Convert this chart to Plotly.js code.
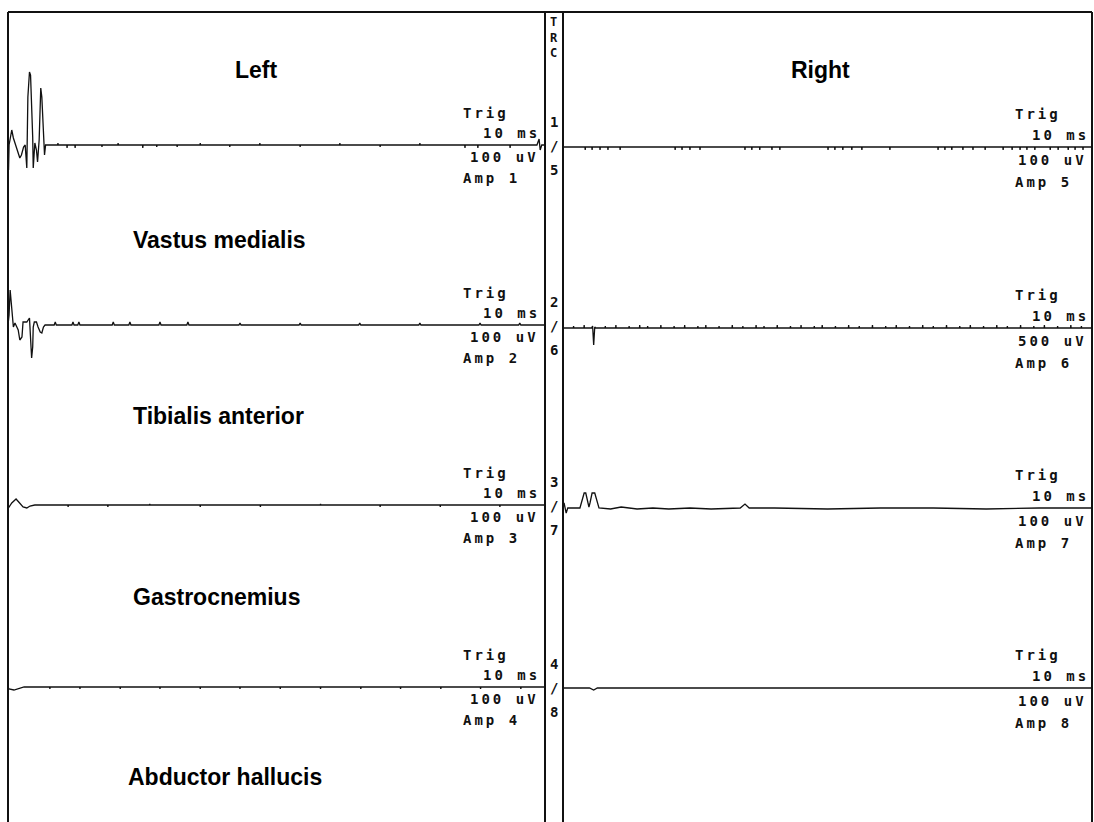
<!DOCTYPE html>
<html>
<head>
<meta charset="utf-8">
<script src="https://cdn.plot.ly/plotly-3.0.1.min.js"></script>
<style>html,body{margin:0;padding:0;background:#fff;}#chart{width:1094px;height:822px;}</style>
</head>
<body>
<div id="chart"></div>
<script>
// ---------- DATA (time in ms, amplitude in display units, + = up) ----------
const sideTitles = ["Left", "Right"];
const muscles = ["Vastus medialis", "Tibialis anterior", "Gastrocnemius", "Abductor hallucis"];
const sweepLabel = "10 ms";
const sensLeft = ["100 uV", "100 uV", "100 uV", "100 uV"];
const sensRight = ["100 uV", "500 uV", "100 uV", "100 uV"];
const ampLeft = ["Amp 1", "Amp 2", "Amp 3", "Amp 4"];
const ampRight = ["Amp 5", "Amp 6", "Amp 7", "Amp 8"];
const trcLetters = ["T", "R", "C"];
const chanPairs = [["1", "5"], ["2", "6"], ["3", "7"], ["4", "8"]];

// Left, Vastus medialis (Amp 1)
const ch1T = [0, 0.1, 0.2, 0.7, 1.0, 1.3, 1.6, 1.9, 2.2, 2.5, 2.9, 3.2, 3.5, 3.7, 4.0, 4.2, 4.4, 4.6, 4.7, 5.0, 5.3, 5.5, 5.8, 6.0, 6.1, 6.3, 6.6, 6.8, 7.0,
  9.25, 9.3, 9.35, 10.95, 11.0, 11.05, 12.45, 12.5, 12.55, 17.45, 17.5, 17.55, 20.45, 20.5, 20.55, 25.05, 25.1, 25.15,
  27.65, 27.7, 27.75, 31.45, 31.5, 31.55, 35.75, 35.8, 35.85, 41.25, 41.3, 41.35, 46.85, 46.9, 46.95, 54.35, 54.4, 54.45,
  61.75, 61.8, 61.85, 69.25, 69.3, 69.35, 76.65, 76.7, 76.75, 85.05, 85.1, 85.15, 87.45, 87.5, 87.55, 93.45, 93.5, 93.55,
  98.5, 98.9, 99.1, 99.4, 100];
const ch1V = [0, -25, 0, 15, 7, 2, -2, -8, -13, -10, -2, 0, -23, 48, 73, 70, 45, 8, -23, 2, -5, -17, 5, 48, 57, 48, 5, -10, 0,
  0, 2, 0, 0, -3, 0, 0, -3, 0, 0, -2, 0, 0, 2, 0, 0, -3, 0,
  0, -2, 0, 0, -2, 0, 0, 2, 0, 0, -2, 0, 0, 2, 0, 0, -2, 0,
  0, 2, 0, 0, -2, 0, 0, 2, 0, 0, -3, 0, 0, -3, 0, 0, -3, 0,
  0, 6, -5, 0, 0];

// Left, Tibialis anterior (Amp 2)
const ch2T = [0, 0.2, 0.4, 0.7, 1.0, 1.3, 1.9, 2.2, 2.6, 2.8, 3.5, 4.0, 4.2, 4.4, 4.6, 4.7, 4.9, 5.3, 5.6, 6.0, 6.3, 6.6, 6.9,
  8.6, 8.8, 9.0, 11.9, 12.1, 12.3, 13.0, 13.2, 13.4, 19.4, 19.6, 19.8, 22.5, 22.7, 22.9, 28.1, 28.3, 28.5, 33.3, 33.5, 33.7,
  43.0, 43.2, 43.4, 54.2, 54.4, 54.6, 65.3, 65.5, 65.7, 76.5, 76.7, 76.9, 87.7, 87.9, 88.1, 95.1, 95.3, 95.5, 100];
const ch2V = [0, 10, 35, 15, -2, 2, -5, -15, -12, 3, 3, 7, -22, -33, -22, -2, 3, 3, -2, -7, -8, -2, 0,
  0, 3, 0, 0, 3, 0, 0, 3, 0, 0, 3, 0, 0, 3, 0, 0, 3, 0, 0, 3, 0,
  0, 2, 0, 0, 2, 0, 0, 2, 0, 0, 2, 0, 0, 2, 0, 0, 2, 0, 0];

// Left, Gastrocnemius (Amp 3)
const ch3T = [0, 0.2, 0.7, 1.5, 2.0, 2.8, 3.5, 4.1, 5.0,
  11.15, 11.2, 11.25, 18.55, 18.6, 18.65, 26.35, 26.4, 26.45, 35.75, 35.8, 35.85, 46.95, 47.0, 47.05,
  58.15, 58.2, 58.25, 69.25, 69.3, 69.35, 80.45, 80.5, 80.55, 91.55, 91.6, 91.65, 100];
const ch3V = [0, -2, 2, 6, 3, -2, -3, -1, 0,
  0, -2, 0, 0, -2, 0, 0, 1, 0, 0, -2, 0, 0, -2, 0,
  0, 1, 0, 0, -2, 0, 0, -2, 0, 0, -2, 0, 0];

// Left, Abductor hallucis (Amp 4)
const ch4T = [0, 0.2, 1.1, 2.2, 3.0,
  7.75, 7.8, 7.85, 13.35, 13.4, 13.45, 20.85, 20.9, 20.95, 28.25, 28.3, 28.35, 35.75, 35.8, 35.85, 43.15, 43.2, 43.25,
  50.65, 50.7, 50.75, 58.15, 58.2, 58.25, 65.65, 65.7, 65.75, 73.05, 73.1, 73.15, 80.55, 80.6, 80.65, 87.95, 88.0, 88.05,
  95.45, 95.5, 95.55, 100];
const ch4V = [0, -2, -3, -1, 0,
  0, -2, 0, 0, -2, 0, 0, -2, 0, 0, -2, 0, 0, -2, 0, 0, -2, 0,
  0, -2, 0, 0, -2, 0, 0, -2, 0, 0, -2, 0, 0, -2, 0, 0, -2, 0,
  0, -2, 0, 0];

// Right, Amp 5
const ch5T = [0,
  4.15, 4.2, 4.25, 5.45, 5.5, 5.55, 6.95, 7.0, 7.05, 8.45, 8.5, 8.55, 10.75, 10.8, 10.85,
  21.15, 21.2, 21.25, 22.45, 22.5, 22.55, 23.95, 24.0, 24.05, 25.85, 25.9, 25.95,
  34.35, 34.4, 34.45, 35.65, 35.7, 35.75, 37.15, 37.2, 37.25, 39.45, 39.5, 39.55, 40.95, 41.0, 41.05,
  50.05, 50.1, 50.15, 51.35, 51.4, 51.45, 52.85, 52.9, 52.95, 54.55, 54.6, 54.65, 56.45, 56.5, 56.55, 61.75, 61.8, 61.85,
  70.85, 70.9, 70.95, 72.15, 72.2, 72.25, 73.45, 73.5, 73.55, 75.55, 75.6, 75.65, 77.45, 77.5, 77.55, 79.75, 79.8, 79.85,
  83.15, 83.2, 83.25, 84.85, 84.9, 84.95, 86.35, 86.4, 86.45, 87.65, 87.7, 87.75, 89.15, 89.2, 89.25,
  92.05, 92.1, 92.15, 93.55, 93.6, 93.65, 95.45, 95.5, 95.55, 96.75, 96.8, 96.85, 98.25, 98.3, 98.35, 100];
const ch5V = [0,
  0, -3, 0, 0, -3, 0, 0, -3, 0, 0, -3, 0, 0, -3, 0,
  0, -3, 0, 0, -3, 0, 0, -3, 0, 0, -3, 0,
  0, -3, 0, 0, -3, 0, 0, -3, 0, 0, -3, 0, 0, -3, 0,
  0, -3, 0, 0, -3, 0, 0, -3, 0, 0, -3, 0, 0, -3, 0, 0, -3, 0,
  0, -3, 0, 0, -3, 0, 0, -3, 0, 0, -3, 0, 0, -3, 0, 0, -3, 0,
  0, -3, 0, 0, -3, 0, 0, -3, 0, 0, -3, 0, 0, -3, 0,
  0, -3, 0, 0, -3, 0, 0, -3, 0, 0, -3, 0, 0, -3, 0, 0];

// Right, Amp 6 (500 uV)
const ch6T = [0, 1.95, 2.0, 2.05, 3.95, 4.0, 4.05, 5.4, 5.6, 5.8, 6.0, 6.2,
  7.95, 8.0, 8.05, 9.95, 10.0, 10.05, 12.45, 12.5, 12.55, 14.45, 14.5, 14.55, 15.95, 16.0, 16.05, 18.45, 18.5, 18.55,
  20.95, 21.0, 21.05, 22.95, 23.0, 23.05, 25.45, 25.5, 25.55, 26.95, 27.0, 27.05, 29.45, 29.5, 29.55, 31.95, 32.0, 32.05,
  33.95, 34.0, 34.05, 36.45, 36.5, 36.55, 37.95, 38.0, 38.05, 40.45, 40.5, 40.55, 42.95, 43.0, 43.05, 44.95, 45.0, 45.05,
  47.45, 47.5, 47.55, 48.95, 49.0, 49.05, 51.45, 51.5, 51.55, 53.95, 54.0, 54.05, 55.95, 56.0, 56.05, 58.45, 58.5, 58.55,
  60.95, 61.0, 61.05, 62.95, 63.0, 63.05, 65.45, 65.5, 65.55, 67.95, 68.0, 68.05, 69.95, 70.0, 70.05, 72.45, 72.5, 72.55,
  74.95, 75.0, 75.05, 76.95, 77.0, 77.05, 79.45, 79.5, 79.55, 81.95, 82.0, 82.05, 83.95, 84.0, 84.05, 86.45, 86.5, 86.55,
  88.95, 89.0, 89.05, 90.95, 91.0, 91.05, 93.45, 93.5, 93.55, 95.95, 96.0, 96.05, 97.95, 98.0, 98.05, 100];
const ch6V = [0, 0, 2, 0, 0, 3, 0, 0, 2, -17, 1, 0,
  0, 2, 0, 0, 3, 0, 0, 2, 0, 0, 3, 0, 0, 2, 0, 0, 3, 0,
  0, 2, 0, 0, 3, 0, 0, 2, 0, 0, 3, 0, 0, 2, 0, 0, 3, 0,
  0, 2, 0, 0, 3, 0, 0, 2, 0, 0, 3, 0, 0, 2, 0, 0, 3, 0,
  0, 2, 0, 0, 3, 0, 0, 2, 0, 0, 3, 0, 0, 2, 0, 0, 3, 0,
  0, 2, 0, 0, 3, 0, 0, 2, 0, 0, 3, 0, 0, 2, 0, 0, 3, 0,
  0, 2, 0, 0, 3, 0, 0, 2, 0, 0, 3, 0, 0, 2, 0, 0, 3, 0,
  0, 2, 0, 0, 3, 0, 0, 2, 0, 0, 3, 0, 0, 2, 0, 0];

// Right, Amp 7
const ch7T = [0, 0.2, 0.6, 0.9, 3.2, 3.6, 4.0, 4.3, 4.7, 4.9, 5.1, 5.5, 6.0, 6.4, 6.8,
  9.0, 11.0, 14.0, 17.0, 20.0, 24.0, 28.0, 33.5, 34.4, 35.2, 40.0, 50.0, 60.0, 70.0, 80.0, 90.0, 100];
const ch7V = [0, 5, -5, 0, 0, 8, 15, 15, 5, 1, 5, 15, 15, 8, 0,
  -1, 1, -1, 0, -1, 0, -1, 0, 4, 0, 0, -1, 0, 0, -1, 0, 0];

// Right, Amp 8
const ch8T = [0, 5.0, 5.8, 6.5, 20, 40, 60, 80, 100];
const ch8V = [0, 0, -2, 0, 0, 0, 0, 0, 0];

// ---------- LAYOUT / DRAWING ----------
const W = 1094, H = 822;
const fx = p => p / W;
const fy = p => 1 - p / H;
const LEFT_X0 = 8, LEFT_X1 = 545, RIGHT_X0 = 563, RIGHT_X1 = 1092, TOP = 12;
const HALF = 90;

const channels = [
  {t: ch1T, v: ch1V, side: 0, base: 145},
  {t: ch2T, v: ch2V, side: 0, base: 325},
  {t: ch3T, v: ch3V, side: 0, base: 505},
  {t: ch4T, v: ch4V, side: 0, base: 687},
  {t: ch5T, v: ch5V, side: 1, base: 147},
  {t: ch6T, v: ch6V, side: 1, base: 328},
  {t: ch7T, v: ch7V, side: 1, base: 508},
  {t: ch8T, v: ch8V, side: 1, base: 688}
];

const layout = {
  width: W, height: H,
  margin: {l: 0, r: 0, t: 0, b: 0},
  paper_bgcolor: '#fff', plot_bgcolor: 'rgba(0,0,0,0)',
  showlegend: false, hovermode: false,
  xaxis: {domain: [fx(LEFT_X0), fx(LEFT_X1)], range: [0, 100], visible: false, fixedrange: true},
  xaxis2: {domain: [fx(RIGHT_X0), fx(RIGHT_X1)], range: [0, 100], visible: false, fixedrange: true},
  shapes: [], annotations: []
};

const traces = channels.map((c, i) => {
  const yk = 'yaxis' + (i === 0 ? '' : i + 1);
  layout[yk] = {
    domain: [fy(c.base + HALF), fy(c.base - HALF)],
    range: [-HALF, HALF], visible: false, fixedrange: true,
    anchor: c.side === 0 ? 'x' : 'x2'
  };
  return {
    type: 'scatter', mode: 'lines', x: c.t, y: c.v,
    xaxis: c.side === 0 ? 'x' : 'x2', yaxis: 'y' + (i === 0 ? '' : i + 1),
    line: {color: '#111', width: 1.3}, hoverinfo: 'skip'
  };
});

// frame
const ln = (x0, y0, x1, y1, w) => ({type: 'line', xref: 'paper', yref: 'paper',
  x0: fx(x0), y0: fy(y0), x1: fx(x1), y1: fy(y1), line: {color: '#111', width: w}});
layout.shapes.push(ln(LEFT_X0, TOP, RIGHT_X1, TOP, 2));
layout.shapes.push(ln(LEFT_X0, TOP, LEFT_X0, H, 2));
layout.shapes.push(ln(LEFT_X1, TOP, LEFT_X1, H, 2));
layout.shapes.push(ln(RIGHT_X0, TOP, RIGHT_X0, H, 2));
layout.shapes.push(ln(RIGHT_X1, TOP, RIGHT_X1, H, 2));

const mono = {family: 'DejaVu Sans Mono, monospace', size: 14, color: '#111', weight: 'bold'};
const monoSmall = {family: 'DejaVu Sans Mono, monospace', size: 12, color: '#111', weight: 'bold'};
const bold = {family: 'Liberation Sans, Arial, sans-serif', size: 23, color: '#000', weight: 'bold'};
const sp = s => '<span style="letter-spacing:3px">' + s + '</span>';
const ann = (x, y, text, xanchor, font, yanchor) => layout.annotations.push({
  xref: 'paper', yref: 'paper', x: fx(x), y: fy(y), text: text, showarrow: false,
  xanchor: xanchor, yanchor: yanchor || 'middle', font: font
});

// titles
ann(256, 70, sideTitles[0], 'center', bold);
ann(820, 70, sideTitles[1], 'center', bold);
// muscles
const musY = [240, 416, 597, 777];
const musX = [131, 131, 131, 126];
muscles.forEach((m, i) => ann(musX[i], musY[i], m, 'left', bold));

// per-row labels
for (let r = 0; r < 4; r++) {
  const bl = channels[r].base, br = channels[r + 4].base;
  ann(461, bl - 32, sp('Trig'), 'left', mono);
  ann(542, bl - 12, sp(sweepLabel), 'right', mono);
  ann(541, bl + 12, sp(sensLeft[r]), 'right', mono);
  ann(461, bl + 33, sp(ampLeft[r]), 'left', mono);
  ann(1013, br - 33, sp('Trig'), 'left', mono);
  ann(1091, br - 12, sp(sweepLabel), 'right', mono);
  ann(1089, br + 13, sp(sensRight[r]), 'right', mono);
  ann(1013, br + 35, sp(ampRight[r]), 'left', mono);
  // channel numbers in the strip
  ann(554, bl - 23, chanPairs[r][0], 'center', mono);
  ann(554, bl + 1, '/', 'center', mono);
  ann(554, bl + 25, chanPairs[r][1], 'center', mono);
}
// T R C stacked in the strip as one text block
ann(554, 13, trcLetters.join('<br>'), 'center', monoSmall, 'top');

Plotly.newPlot('chart', traces, layout, {staticPlot: true, displayModeBar: false});
</script>
</body>
</html>
